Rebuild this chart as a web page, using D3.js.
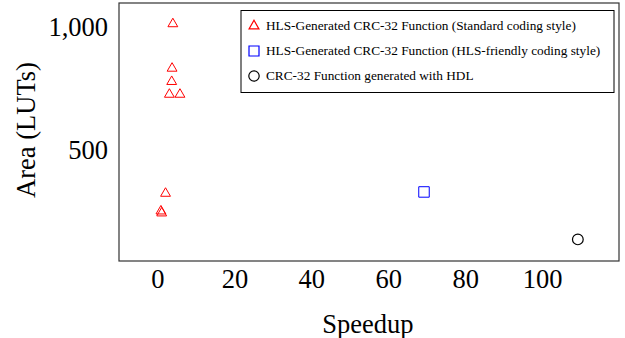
<!DOCTYPE html>
<html><head><meta charset="utf-8">
<script src="https://cdn.jsdelivr.net/npm/d3@7"></script>
<style>body{margin:0;background:#fff}svg{display:block}text{font-family:"Liberation Serif","Times New Roman",serif}</style>
</head><body>
<svg id="chart" width="625" height="338"></svg>
<script>
// Data
const stdSpeedup = [4.0, 3.8, 3.7, 3.1, 5.85, 2.1, 0.9, 1.1];
const stdArea    = [1015, 834, 780, 728, 728, 325, 253, 245];
const friendlySpeedup = [69.3];
const friendlyArea    = [331];
const hdlSpeedup = [109.3];
const hdlArea    = [138];
const xTicks = [0, 20, 40, 60, 80, 100];
const yTicks = [500, 1000];
const legendLabels = [
  "HLS-Generated CRC-32 Function (Standard coding style)",
  "HLS-Generated CRC-32 Function (HLS-friendly coding style)",
  "CRC-32 Function generated with HDL"
];

const FONT = '"Liberation Serif","Times New Roman",serif';
const svg = d3.select("#chart");
const L = 119, R = 619, T = 3, B = 261;
const x = d3.scaleLinear().domain([-10, 120]).range([L, R]);
const y = d3.scaleLinear().domain([50, 1100]).range([B, T]);

// frame
svg.append("rect").attr("x", L).attr("y", T).attr("width", R - L).attr("height", B - T)
  .attr("fill", "none").attr("stroke", "#333").attr("stroke-width", 1.2);

// axes (labels only)
const fmt = d3.format(",");
const xAxis = svg.append("g").attr("transform", `translate(0,${B})`)
  .call(d3.axisBottom(x).tickValues(xTicks).tickSize(0).tickPadding(0).tickFormat(fmt));
xAxis.select(".domain").remove();
xAxis.selectAll("text").attr("dy", null).attr("y", 27).attr("font-size", 26.5).attr("fill", "#000")
  .style("font-family", FONT);

const yAxis = svg.append("g").attr("transform", `translate(${L},0)`)
  .call(d3.axisLeft(y).tickValues(yTicks).tickSize(0).tickPadding(11).tickFormat(fmt));
yAxis.select(".domain").remove();
yAxis.selectAll("text").attr("font-size", 26.5).attr("fill", "#000").attr("dy", "0.3em")
  .style("font-family", FONT);

// axis titles
svg.append("text").attr("x", (L + R) / 2 - 1).attr("y", 333).attr("text-anchor", "middle")
  .attr("font-size", 26.5).style("font-family", FONT).text("Speedup");
svg.append("text").attr("transform", `translate(35,${(T + B) / 2 - 2}) rotate(-90)`)
  .attr("text-anchor", "middle").attr("font-size", 26.5).style("font-family", FONT).text("Area (LUTs)");

// symbols
const tri = d3.symbol().type(d3.symbolTriangle).size(42);
const sq = d3.symbol().type(d3.symbolSquare).size(110);
const circ = d3.symbol().type(d3.symbolCircle).size(90);

svg.append("g").selectAll("path").data(d3.range(stdSpeedup.length)).join("path")
  .attr("d", tri).attr("transform", i => `translate(${x(stdSpeedup[i])},${y(stdArea[i])})`)
  .attr("fill", "none").attr("stroke", "#ff0000").attr("stroke-width", 1);
svg.append("g").selectAll("path").data(d3.range(friendlySpeedup.length)).join("path")
  .attr("d", sq).attr("transform", i => `translate(${x(friendlySpeedup[i])},${y(friendlyArea[i])})`)
  .attr("fill", "none").attr("stroke", "#0000ff").attr("stroke-width", 1);
svg.append("g").selectAll("path").data(d3.range(hdlSpeedup.length)).join("path")
  .attr("d", circ).attr("transform", i => `translate(${x(hdlSpeedup[i])},${y(hdlArea[i])})`)
  .attr("fill", "none").attr("stroke", "#000").attr("stroke-width", 1.2);

// legend
const lg = svg.append("g");
lg.append("rect").attr("x", 241).attr("y", 10.5).attr("width", 373).attr("height", 82)
  .attr("fill", "#fff").attr("stroke", "#000").attr("stroke-width", 1);
const legSyms = [
  {sym: tri, color: "#ff0000"},
  {sym: d3.symbol().type(d3.symbolSquare).size(100), color: "#0000ff"},
  {sym: d3.symbol().type(d3.symbolCircle).size(85), color: "#000"}
];
const rowY = [26, 51, 76];
legendLabels.forEach((lab, i) => {
  lg.append("path").attr("d", legSyms[i].sym).attr("transform", `translate(254,${rowY[i]})`)
    .attr("fill", "none").attr("stroke", legSyms[i].color).attr("stroke-width", 1.2);
  lg.append("text").attr("x", 266).attr("y", rowY[i]).attr("dy", "0.33em")
    .attr("font-size", 13.3).style("font-family", FONT).text(lab);
});
</script>
</body></html>
